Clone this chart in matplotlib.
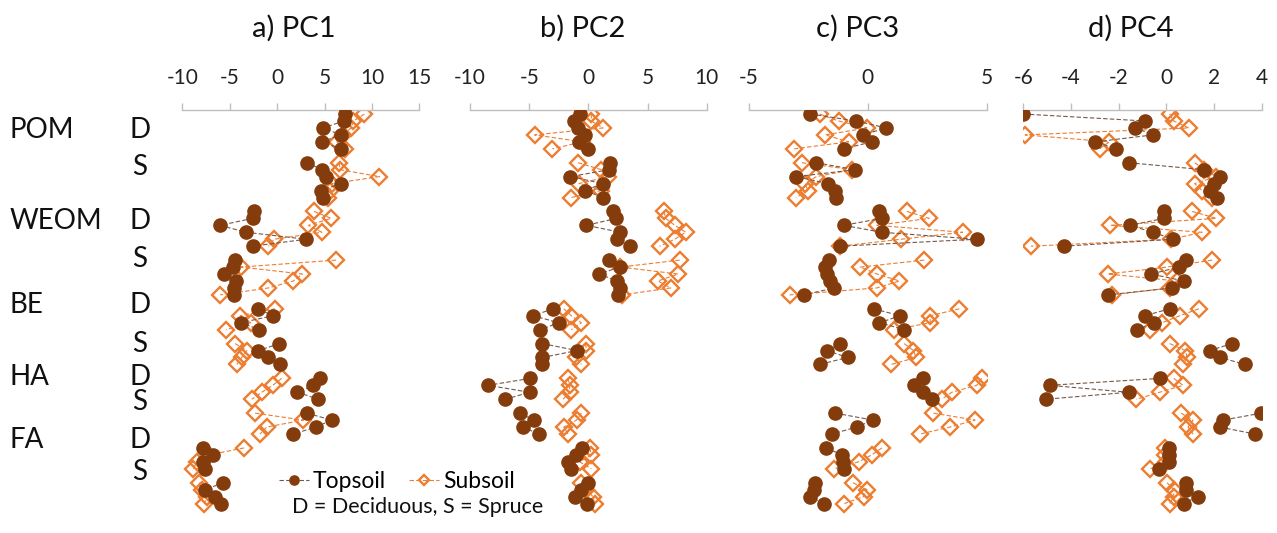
import numpy as np
import matplotlib
matplotlib.use("Agg")
import matplotlib.pyplot as plt

plt.rcParams['font.family'] = ['Lato', 'DejaVu Sans']
plt.rcParams['axes.unicode_minus'] = False

# rows per group (fraction x forest type), top to bottom
groups = ["POM D", "POM S", "WEOM D", "WEOM S", "BE D", "BE S", "HA D", "HA S", "FA D", "FA S"]
group_sizes = [6, 6, 6, 6, 4, 4, 4, 4, 4, 4]

titles = ["a) PC1", "b) PC2", "c) PC3", "d) PC4"]
xlims = [(-10, 15), (-10, 10), (-5, 5), (-6, 4)]
xticks = [[-10, -5, 0, 5, 10, 15], [-10, -5, 0, 5, 10], [-5, 0, 5], [-6, -4, -2, 0, 2, 4]]

pc1_top = [7.17, 7.07, 4.82, 6.75, 4.71, 6.75,
           3.2, 4.71, 5.17, 6.75, 4.64, 4.82,
           -2.43, -2.57, -6.01, -3.27, 3.06, -2.57,
           -4.43, -4.6, -5.59, -4.36, -4.5, -4.5,
           -1.97, -0.46, -3.83, -1.86,
           0.25, -1.97, -0.91, 0.32,
           4.54, 3.83, 2.14, 4.36,
           3.13, 5.77, 4.08, 1.72,
           -7.77, -6.72, -7.77, -7.6,
           -5.66, -7.6, -6.54, -5.91]
pc1_sub = [9.21, 8.05, 7.8, 6.9, 6.3, 7.17,
           6.54, 6.65, 10.8, 5.8, 5.6, 5.4,
           3.9, 5.7, 3.3, 4.71, -0.32, -0.91,
           6.22, -3.8, 2.67, 1.72, -0.91, -6.0,
           -0.21, -3.9, -2.78, -5.38,
           -4.43, -3.2, -3.73, -4.25,
           0.49, -0.46, -1.62, -2.67,
           -2.32, 2.78, -1.09, -1.79,
           -3.48, -7.2, -8.5, -8.83,
           -8.19, -7.9, -7.4, -7.67]

pc2_top = [-0.68, -1.21, -0.9, -0.31, -0.79, -0.03,
           1.86, 1.75, -1.52, 1.24, -0.31, 1.24,
           2.08, 2.37, -0.17, 2.7, 2.42, 3.49,
           1.72, 2.65, 0.9, 2.42, 2.65, 2.51,
           -2.99, -4.68, -2.48, -4.06,
           -3.89, -0.96, -3.89, -3.89,
           -4.9, -8.48, -4.96, -7.01,
           -5.75, -4.62, -5.52, -4.2,
           -0.51, -1.01, -1.72, -1.44,
           -0.03, -0.59, -1.15, -0.08]
pc2_sub = [0.25, 0.25, 1.24, -4.54, -0.5, -3.04,
           -0.87, 1.1, 1.66, -0.79, 1.1, -1.44,
           6.39, 6.54, 7.3, 8.23, 7.3, 6.03,
           7.72, 2.7, 7.58, 5.89, 6.96, 2.87,
           -2.08, -1.44, -0.59, -1.44,
           -0.23, -0.17, -1.01, -0.59,
           -1.72, -1.58, -1.58, -2.14,
           -0.59, -1.0, -2.08, -1.72,
           0.11, 0.25, -0.73, 0.25,
           -0.59, -0.17, 0.39, 0.54]

pc3_top = [-2.42, -0.49, 0.77, -0.21, 0.17, -1.02,
           -2.17, -0.53, -3.01, -1.69, -1.37, -1.33,
           0.49, 0.59, -1.02, 0.59, 4.58, -1.19,
           -1.65, -1.79, -1.72, -1.58, -1.41, -2.7,
           0.24, 1.36, 0.49, 1.54,
           -1.19, -1.72, -0.85, -2.03,
           2.34, 1.95, 2.31, 2.69,
           -1.37, 0.21, -0.46, -1.51,
           -1.75, -1.09, -1.05, -1.02,
           -2.21, -2.25, -2.45, -1.86]
pc3_sub = [-2.03, -1.23, -0.04, -1.79, -0.81, -3.1,
           -2.77, -0.67, -2.17, -2.63, -2.53, -3.01,
           1.64, 2.58, 0.38, 3.99, 1.39, -1.16,
           2.37, -0.32, 0.38, 1.33, 0.38, -3.29,
           3.85, 2.62, 2.62, 1.11,
           1.53, 1.92, 2.03, 0.98,
           4.79, 4.58, 3.53, 3.11,
           2.76, 4.51, 3.46, 2.2,
           0.59, 0.17, -0.39, -1.41,
           -0.63, -0.04, -0.18, -0.99]

pc4_top = [-6.0, -0.88, -1.3, -0.56, -2.98, -2.1,
           -1.58, 1.57, 2.24, 2.0, 1.85, 2.13,
           -0.08, -0.08, -1.54, -0.56, 0.28, -4.3,
           0.84, 0.52, -0.63, 0.73, 0.24, -2.46,
           0.14, -0.91, -0.53, -1.23,
           2.76, 1.82, 2.27, 3.29,
           -0.25, -4.9, -1.58, -5.05,
           3.99, 2.38, 2.24, 3.71,
           0.1, 0.1, 0.1, -0.32,
           0.84, 0.84, 1.31, 0.73]
pc4_sub = [0.14, 0.31, 0.94, -5.92, -2.39, -2.8,
           1.19, 1.6, 2.1, 1.19, 1.5, 1.92,
           1.08, 2.1, -2.35, 1.5, 0.21, -5.68,
           1.92, 0.03, -2.46, 0.45, 0.14, -2.28,
           1.36, 0.56, -0.18, -0.67,
           0.14, 0.8, 0.87, 0.7,
           0.31, 0.7, -0.28, -1.26,
           0.62, 1.12, 0.91, 1.12,
           -0.04, -0.04, 0.0, -0.67,
           0.03, 0.31, 0.31, 0.14]

tops = [pc1_top, pc2_top, pc3_top, pc4_top]
subs = [pc1_sub, pc2_sub, pc3_sub, pc4_sub]

TOP_C = "#843C0C"
SUB_C = "#ED7D31"


def with_gaps(values):
    """one row per sample, an empty row between groups so lines break"""
    xs, ys = [], []
    i, row = 0, 0
    for n in group_sizes:
        xs += list(values[i:i + n]) + [np.nan]
        ys += list(range(row, row + n)) + [row + n]
        i += n
        row += n + 1
    return np.array(xs[:-1]), np.array(ys[:-1])


W, H = 1277, 533
fig = plt.figure(figsize=(W / 100, H / 100), dpi=100)

# axes pixel extents (left, right) of each panel
panel_px = [(182.3, 419.3), (470, 706.7), (749, 986.7), (1023.3, 1261.7)]
top_px, bot_px = 110, 514
title_x = [293.5, 583, 858, 1131]

axes = []
for k in range(4):
    l, r = panel_px[k]
    ax = fig.add_axes([l / W, 1 - bot_px / H, (r - l) / W, (bot_px - top_px) / H])
    xs, ys = with_gaps(subs[k])
    ax.plot(xs, ys, linestyle=(0, (4, 2)), color=SUB_C, lw=0.8, marker='D',
            markersize=8, markerfacecolor='none', markeredgecolor=SUB_C,
            markeredgewidth=1.7, label="Subsoil", zorder=2)
    xs, ys = with_gaps(tops[k])
    ax.plot(xs, ys, linestyle=(0, (4, 2)), color="#76584a", lw=0.8, marker='o',
            markersize=9.5, markerfacecolor=TOP_C, markeredgecolor=TOP_C,
            label="Topsoil", zorder=3)
    ax.set_xlim(*xlims[k])
    ax.set_ylim(57.5, -0.58)
    ax.set_xticks(xticks[k])
    ax.xaxis.tick_top()
    ax.tick_params(axis='x', direction='out', length=5, width=1, color="#BFBFBF",
                   labelsize=15, pad=11, labelcolor="#222222")
    ax.set_yticks([])
    for s in ["left", "right", "bottom"]:
        ax.spines[s].set_visible(False)
    ax.spines["top"].set_color("#BFBFBF")
    ax.spines["top"].set_linewidth(1)
    ax.patch.set_alpha(0)
    fig.text(title_x[k] / W, 1 - 37 / H, titles[k], ha='center', va='baseline',
             fontsize=21, color="#111111")
    axes.append(ax)

# row labels on the left
label_base = [138, 175, 229, 267, 313, 352, 385, 410, 448, 480]
for j, g in enumerate(groups):
    frac, ft = g.split()
    y = 1 - label_base[j] / H
    if ft == "D":
        fig.text(10 / W, y, frac, ha='left', va='baseline', fontsize=20, color="#111111")
    fig.text(140 / W, y, ft, ha='center', va='baseline', fontsize=20, color="#111111")

handles, labels = axes[0].get_legend_handles_labels()
fig.legend(handles[::-1], labels[::-1], loc='center', ncol=2,
           bbox_to_anchor=(397 / W, 1 - 482 / H), frameon=False, fontsize=16.5,
           handlelength=1.3, handletextpad=0.2, columnspacing=1.0, markerscale=0.7)
fig.text(292 / W, 1 - 513 / H, "D = Deciduous, S = Spruce", ha='left', va='baseline',
         fontsize=15.5, color="#111111")

fig.savefig("out.png", dpi=100)
